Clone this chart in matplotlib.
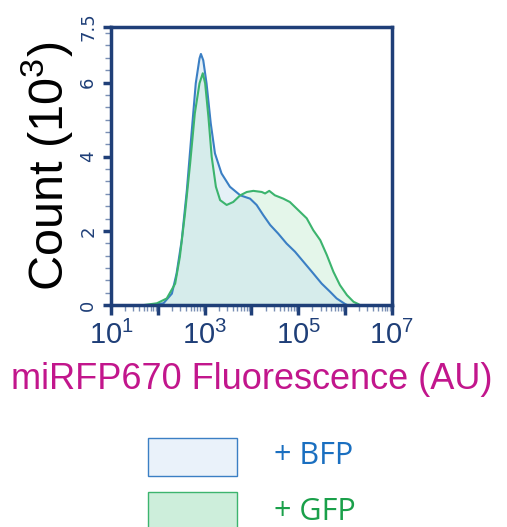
import numpy as np
import matplotlib
matplotlib.use('Agg')
import matplotlib.pyplot as plt
from matplotlib.patches import Rectangle
from matplotlib.ticker import LogLocator, NullFormatter, AutoMinorLocator

plt.rcParams['mathtext.fontset'] = 'custom'
plt.rcParams['mathtext.rm'] = 'Liberation Sans'
plt.rcParams['mathtext.it'] = 'Liberation Sans:italic'
plt.rcParams['mathtext.bf'] = 'Liberation Sans:bold'

# Valores (expoente log10 da fluorescência, contagem em milhares)
bfp_log = [1.83, 2.12, 2.30, 2.40, 2.51, 2.62, 2.72, 2.81, 2.89, 2.92, 2.97, 3.04,
           3.13, 3.22, 3.36, 3.54, 3.76, 3.97, 4.11, 4.25, 4.40, 4.57, 4.75, 4.93,
           5.11, 5.29, 5.50, 5.68, 5.82, 6.00, 6.05]
bfp_count = [0.0, 0.05, 0.31, 0.85, 1.75, 3.10, 4.63, 5.98, 6.65, 6.77, 6.60, 5.98,
             4.90, 4.09, 3.55, 3.19, 2.96, 2.87, 2.70, 2.43, 2.16, 1.93, 1.66, 1.44,
             1.17, 0.90, 0.58, 0.36, 0.18, 0.03, 0.0]

gfp_log = [1.69, 1.98, 2.19, 2.37, 2.47, 2.58, 2.69, 2.79, 2.89, 2.96, 3.01, 3.08,
           3.15, 3.24, 3.33, 3.47, 3.61, 3.76, 3.90, 4.04, 4.22, 4.29, 4.38, 4.50,
           4.68, 4.82, 5.00, 5.18, 5.32, 5.47, 5.61, 5.75, 5.89, 6.04, 6.18, 6.28,
           6.32]
gfp_count = [0.0, 0.05, 0.18, 0.58, 1.30, 2.47, 3.82, 5.17, 5.98, 6.25, 5.98, 5.08,
             4.00, 3.19, 2.83, 2.70, 2.78, 2.96, 3.05, 3.08, 3.05, 3.01, 3.08, 2.96,
             2.87, 2.78, 2.56, 2.34, 2.02, 1.75, 1.35, 0.90, 0.54, 0.27, 0.09, 0.03,
             0.0]

navy = '#1f3f78'
blue_line = '#3b7fc4'
green_line = '#3cb46e'

fig = plt.figure(figsize=(5.07, 5.27), dpi=100)
ax = fig.add_axes([0.219, 0.421, 0.554, 0.528])

bx = 10 ** np.array(bfp_log)
gx = 10 ** np.array(gfp_log)
ax.fill_between(gx, gfp_count, color='#d2f0dc', alpha=0.6, lw=0)
ax.fill_between(bx, bfp_count, color='#c6e0ee', alpha=0.45, lw=0)
ax.plot(bx, bfp_count, color=blue_line, lw=1.5)
ax.plot(gx, gfp_count, color=green_line, lw=1.5)

ax.set_xscale('log')
ax.set_xlim(10, 1e7)
ax.set_ylim(0, 7.5)

# Ticks
ax.xaxis.set_minor_locator(LogLocator(base=10, subs=np.arange(2, 10), numticks=20))
ax.xaxis.set_minor_formatter(NullFormatter())
ax.set_xticks([10, 1e2, 1e3, 1e4, 1e5, 1e6, 1e7])
ax.set_xticklabels([r'$10^1$', '', r'$10^3$', '', r'$10^5$', '', r'$10^7$'])
ax.set_yticks([0, 2, 4, 6, 7.5])
ax.set_yticklabels(['0', '2', '4', '6', '7.5'], rotation=90, va='center')
ax.yaxis.set_minor_locator(AutoMinorLocator(6))

ax.tick_params(axis='x', which='major', length=7, width=2.5, color=navy,
               labelcolor=navy, labelsize=21, pad=4)
ax.tick_params(axis='x', which='minor', length=4, width=1, color='#7a8fb5')
ax.tick_params(axis='y', which='major', length=6, width=2.5, color=navy,
               labelcolor=navy, labelsize=13, pad=4)
ax.tick_params(axis='y', which='minor', length=4, width=1, color='#7a8fb5')

for s in ax.spines.values():
    s.set_color(navy)
    s.set_linewidth(2.5)

ax.set_ylabel('Count (10$^3$)', fontsize=35, family='Liberation Sans', labelpad=3)
ax.set_xlabel('miRFP670 Fluorescence (AU)', fontsize=26, family='Liberation Sans',
              color='#c2168c', labelpad=9)

# Legenda manual
fig.patches.append(Rectangle((148 / 507, 1 - 476 / 527), 89 / 507, 38 / 527,
                             transform=fig.transFigure, facecolor='#eaf2fa',
                             edgecolor='#3b7fc4', lw=1))
fig.patches.append(Rectangle((148 / 507, 1 - 530 / 527), 89 / 507, 38 / 527,
                             transform=fig.transFigure, facecolor='#cdeedb',
                             edgecolor='#3cb46e', lw=1))
fig.text(274 / 507, 1 - 456 / 527, '+ BFP', color='#1a6fc0', fontsize=22,
         family='Open Sans', va='center')
fig.text(274 / 507, 1 - 512 / 527, '+ GFP', color='#1aa04a', fontsize=22,
         family='Open Sans', va='center')

fig.savefig('out.png', dpi=100)
